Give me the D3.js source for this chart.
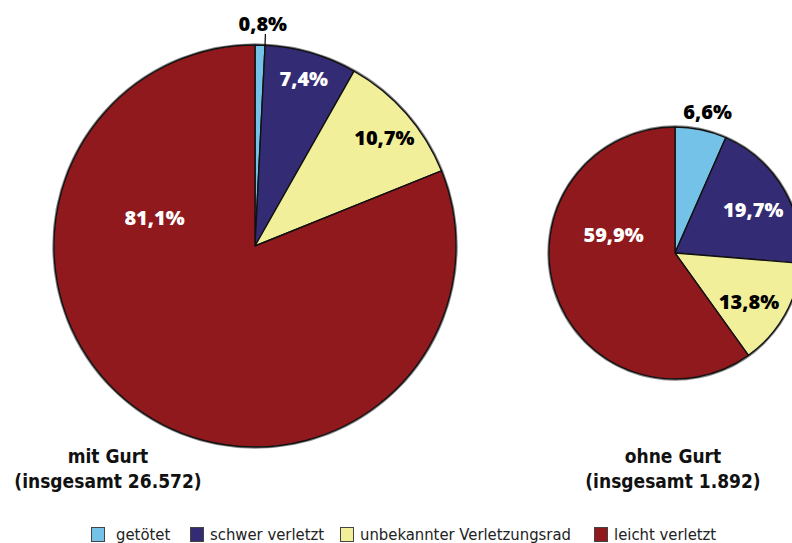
<!DOCTYPE html>
<html><head><meta charset="utf-8">
<script src="https://cdn.jsdelivr.net/npm/d3@7"></script>
<style>
html,body{margin:0;padding:0;background:#fff;}
svg{display:block;}
</style></head>
<body>
<svg id="chart" width="792" height="543"></svg>
<script>
// ---- data ----
const categories = ["getötet", "schwer verletzt", "unbekannter Verletzungsrad", "leicht verletzt"];
const colors = ["#74C2E8", "#332C74", "#F2EF9A", "#90191D"];
const mitGurt = [0.8, 7.4, 10.7, 81.1];
const ohneGurt = [6.6, 19.7, 13.8, 59.9];
const pieTitles = ["mit Gurt", "ohne Gurt"];
const pieTotals = ["(insgesamt 26.572)", "(insgesamt 1.892)"];

const fmt = v => d3.format(".1f")(v).replace(".", ",") + "%";
const labelColor = ["#000", "#fff", "#000", "#fff"];

const svg = d3.select("#chart");
const pies = [
  {values: mitGurt, cx: 255, cy: 246, r: 201, title: pieTitles[0], total: pieTotals[0], tx: 108,
   // label placement per slice: [angle override (deg) or null, radius factor]
   place: [[2, 1.11], [null, 0.87], [50, 0.84], [-74, 0.52]], leader: 0},
  {values: ohneGurt, cx: 675, cy: 253, r: 126, title: pieTitles[1], total: pieTotals[1], tx: 673,
   place: [[13, 1.15], [61, 0.71], [123, 0.70], [-73, 0.51]], leader: -1}
];

const pieGen = d3.pie().sort(null).value(d => d);
const fontPct = "'Open Sans', 'DejaVu Sans', sans-serif";
const fontTitle = "'Liberation Sans Narrow', 'Arial Narrow', 'DejaVu Sans Condensed', sans-serif";

pies.forEach(p => {
  const g = svg.append("g").attr("transform", `translate(${p.cx},${p.cy})`);
  const arcs = pieGen(p.values);
  const arc = d3.arc().innerRadius(0).outerRadius(p.r);
  // shadow ring
  g.append("circle").attr("r", p.r + 1).attr("fill", "none").attr("stroke", "#888").attr("stroke-width", 1.5);
  g.selectAll("path.slice").data(arcs).join("path")
    .attr("class", "slice")
    .attr("d", arc)
    .attr("fill", (d, i) => colors[i])
    .attr("stroke", "#111")
    .attr("stroke-width", 1.4)
    .attr("stroke-linejoin", "round");

  arcs.forEach((d, i) => {
    const [angOv, k] = p.place[i];
    const mid = angOv === null ? (d.startAngle + d.endAngle) / 2 : angOv * Math.PI / 180;
    const x = Math.sin(mid) * p.r * k;
    const y = -Math.cos(mid) * p.r * k;
    if (i === p.leader) {
      g.append("line")
        .attr("x1", Math.sin(mid) * p.r * 0.995 + 3).attr("y1", -Math.cos(mid) * p.r * 0.995)
        .attr("x2", Math.sin(mid) * p.r * 1.055 + 3).attr("y2", -Math.cos(mid) * p.r * 1.055)
        .attr("stroke", "#000").attr("stroke-width", 1.2);
    }
    g.append("text")
      .attr("x", x).attr("y", y)
      .attr("text-anchor", "middle")
      .attr("dominant-baseline", "central")
      .attr("font-family", fontPct)
      .attr("font-weight", 800)
      .attr("font-size", 20)
      .attr("fill", (k > 1) ? "#000" : labelColor[i])
      .text(fmt(p.values[i]));
  });

  svg.append("text").attr("x", p.tx).attr("y", 463)
    .attr("text-anchor", "middle").attr("font-family", fontTitle)
    .attr("font-weight", 700).attr("font-size", 19).attr("fill", "#111")
    .text(p.title);
  svg.append("text").attr("x", p.tx).attr("y", 488)
    .attr("text-anchor", "middle").attr("font-family", fontTitle)
    .attr("font-weight", 700).attr("font-size", 19).attr("fill", "#111")
    .text(p.total);
});

// legend
const legendX = [91, 190, 340, 594];
const lg = svg.append("g");
categories.forEach((c, i) => {
  lg.append("rect").attr("x", legendX[i] + 0.5).attr("y", 527.5).attr("width", 13).attr("height", 14)
    .attr("fill", colors[i]).attr("stroke", "#444").attr("stroke-width", 1);
  lg.append("text").attr("x", legendX[i] + 20 + (i === 0 ? 5 : 0)).attr("y", 534.5)
    .attr("dominant-baseline", "central")
    .attr("font-family", fontTitle).attr("font-size", 16.5).attr("fill", "#222")
    .text(c);
});
</script>
</body></html>
